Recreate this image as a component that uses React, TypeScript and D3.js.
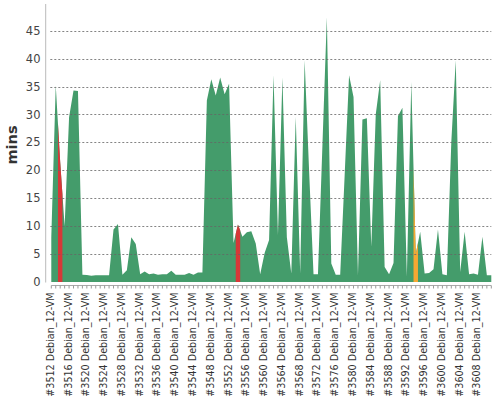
import React from "react";
import * as d3 from "d3";

const BUILDS: number[] = [
  3512, 3513, 3514, 3515, 3516, 3517, 3518, 3519, 3520, 3521,
  3522, 3523, 3524, 3525, 3526, 3527, 3528, 3529, 3530, 3531,
  3532, 3533, 3534, 3535, 3536, 3537, 3538, 3539, 3540, 3541,
  3542, 3543, 3544, 3545, 3546, 3547, 3548, 3549, 3550, 3551,
  3552, 3553, 3554, 3555, 3556, 3557, 3558, 3559, 3560, 3561,
  3562, 3563, 3564, 3565, 3566, 3567, 3568, 3569, 3570, 3571,
  3572, 3573, 3574, 3575, 3576, 3577, 3578, 3579, 3580, 3581,
  3582, 3583, 3584, 3585, 3586, 3587, 3588, 3589, 3590, 3591,
  3592, 3593, 3594, 3595, 3596, 3597, 3598, 3599, 3600, 3601,
  3602, 3603, 3604, 3605, 3606, 3607, 3608, 3609, 3610, 3611,
];

const DURATIONS_MIN: number[] = [
  8, 35.2, 21.5, 10, 29.5, 34.3, 34.2, 1.3, 1.25, 1.1,
  1.2, 1.2, 1.2, 1.2, 9.4, 10.4, 1.3, 2.1, 8.0, 6.8,
  1.4, 1.9, 1.4, 1.5, 1.3, 1.4, 1.4, 2.0, 1.3, 1.3,
  1.3, 1.6, 1.3, 1.7, 1.7, 32.5, 36.3, 33.4, 36.6, 33.6,
  35.5, 7.0, 10.3, 8.1, 8.9, 9.1, 6.9, 1.4, 5.2, 7.5,
  37.0, 8.4, 36.6, 8.0, 1.5, 29.6, 1.5, 39.7, 20, 1.4,
  1.4, 24.4, 47.4, 3.3, 1.3, 1.3, 19, 37.0, 33.1, 1.2,
  29.1, 29.3, 6.3, 30, 36.1, 2.7, 1.4, 3.4, 29.7, 31.2,
  1.0, 35.8, 5.0, 9.0, 1.5, 1.6, 2.3, 9.4, 1.4, 1.2,
  25, 39.7, 1.8, 9.0, 1.4, 1.5, 1.3, 8.1, 1.2, 1.2,
];

const FAILED_BUILDS: number[] = [3514, 3554];
const UNSTABLE_BUILDS: number[] = [3594];

const LABEL_SUFFIX = " Debian_12-VM";
const LABEL_EVERY = 4;
const Y_TICKS: number[] = [0, 5, 10, 15, 20, 25, 30, 35, 40, 45];
const Y_TITLE = "mins";

const COLORS = {
  success: "#449c6b",
  failed: "#d63838",
  unstable: "#f7a833",
};

const W = 500;
const H = 400;
const PLOT = { left: 51.3, right: 491.3, top: 4, bottom: 282 };

export default function App() {
  const n = DURATIONS_MIN.length;
  const x = d3.scaleLinear().domain([0, n - 1]).range([PLOT.left, PLOT.right]);
  const yMax = (d3.max(DURATIONS_MIN) as number) * 1.05;
  const y = d3.scaleLinear().domain([0, yMax]).range([PLOT.bottom, PLOT.top]);

  const pts = DURATIONS_MIN.map((v, i) => ({ i, v }));
  const area = d3
    .area<{ i: number; v: number }>()
    .x((d) => x(d.i))
    .y0(y(0))
    .y1((d) => y(d.v));

  const bandPts = (k: number) => {
    const arr: { i: number; v: number }[] = [];
    if (k > 0) arr.push({ i: k - 0.5, v: (DURATIONS_MIN[k - 1] + DURATIONS_MIN[k]) / 2 });
    arr.push({ i: k, v: DURATIONS_MIN[k] });
    if (k < n - 1) arr.push({ i: k + 0.5, v: (DURATIONS_MIN[k] + DURATIONS_MIN[k + 1]) / 2 });
    return arr;
  };

  const highlight: { k: number; color: string }[] = [];
  BUILDS.forEach((b, k) => {
    if (FAILED_BUILDS.includes(b)) highlight.push({ k, color: COLORS.failed });
    if (UNSTABLE_BUILDS.includes(b)) highlight.push({ k, color: COLORS.unstable });
  });

  const axisY = PLOT.bottom + 3.5;

  return (
    <svg
      width={W}
      height={H}
      style={{ position: "absolute", left: 0, top: 0, background: "#fff" }}
      fontFamily="DejaVu Sans, sans-serif"
    >
      <path d={area(pts) || ""} fill={COLORS.success} />
      {highlight.map((h) => (
        <path key={h.k} d={area(bandPts(h.k)) || ""} fill={h.color} />
      ))}

      {/* gridlines */}
      {Y_TICKS.filter((t) => t > 0).map((t) => (
        <line
          key={t}
          x1={PLOT.left - 1}
          x2={PLOT.right}
          y1={Math.round(y(t)) + 0.5}
          y2={Math.round(y(t)) + 0.5}
          stroke="#666"
          strokeWidth={1}
          strokeDasharray="2,2"
          opacity={0.8}
        />
      ))}

      {/* y axis */}
      <line x1={45.7} x2={45.7} y1={PLOT.top} y2={PLOT.bottom + 0.5} stroke="#bbb" strokeWidth={1} />
      {Y_TICKS.map((t) => (
        <text
          key={t}
          x={40.5}
          y={y(t)}
          dy="0.36em"
          textAnchor="end"
          fontSize={11.5}
          fill="#444"
        >
          {t}
        </text>
      ))}
      <text
        transform={`translate(17,${(PLOT.top + PLOT.bottom) / 2 + 2}) rotate(-90)`}
        textAnchor="middle"
        fontSize={14.5}
        fontWeight="bold"
        fill="#333"
      >
        {Y_TITLE}
      </text>

      {/* x axis */}
      <line x1={PLOT.left} x2={PLOT.right} y1={axisY} y2={axisY} stroke="#aaa" strokeWidth={1} />
      {BUILDS.map((b, k) => (
        <line key={b} x1={x(k)} x2={x(k)} y1={axisY} y2={axisY + 3} stroke="#999" strokeWidth={1} />
      ))}
      {BUILDS.map((b, k) =>
        k % LABEL_EVERY === 0 ? (
          <text
            key={b}
            transform={`translate(${x(k) - 1},${axisY + 7}) rotate(-90)`}
            textAnchor="end"
            dy="0.36em"
            fontSize={9.6}
            fill="#333"
          >
            {`#${b}${LABEL_SUFFIX}`}
          </text>
        ) : null
      )}
    </svg>
  );
}
